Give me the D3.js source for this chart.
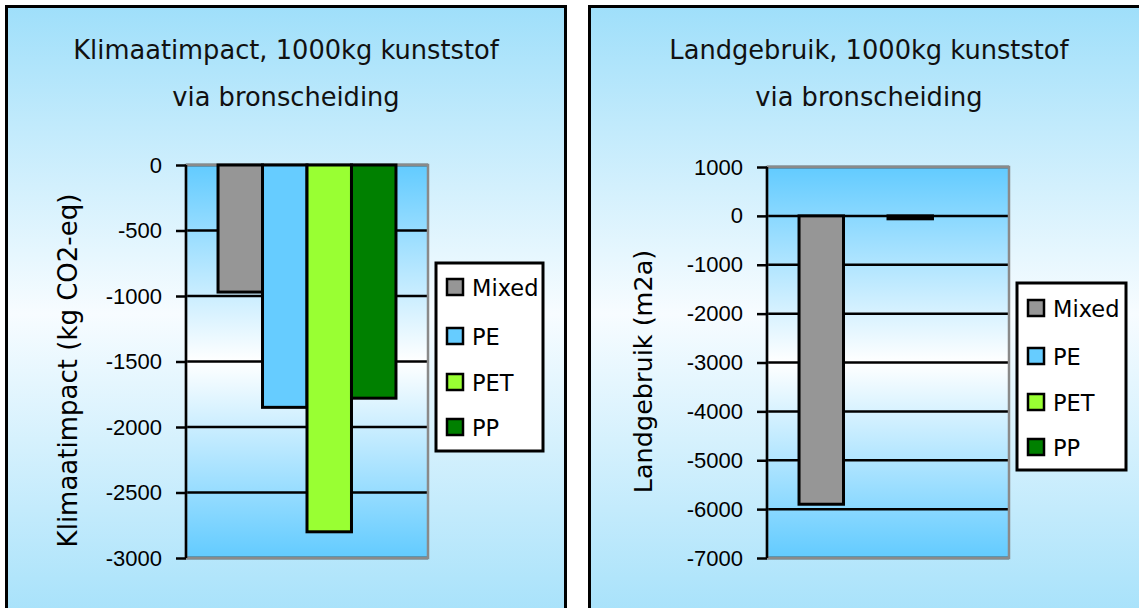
<!DOCTYPE html>
<html>
<head>
<meta charset="utf-8">
<script src="https://cdn.jsdelivr.net/npm/d3@7/dist/d3.min.js"></script>
<style>
  html, body { margin: 0; padding: 0; background: #ffffff; }
  svg { display: block; }
</style>
</head>
<body>
<svg id="chart" width="1139" height="608"></svg>
<script>
// ---- data ----
const seriesNames = ["Mixed", "PE", "PET", "PP"];
const seriesColors = ["#969696", "#66ccff", "#99ff33", "#008000"];

const klimaatTitle = ["Klimaatimpact, 1000kg kunststof", "via bronscheiding"];
const klimaatAxisLabel = "Klimaatimpact (kg CO2-eq)";
const klimaatValues = [-970, -1850, -2800, -1780];
const klimaatTicks = [0, -500, -1000, -1500, -2000, -2500, -3000];

const landTitle = ["Landgebruik, 1000kg kunststof", "via bronscheiding"];
const landAxisLabel = "Landgebruik (m2a)";
const landValues = [-5900, 0, -60, 0];
const landTicks = [1000, 0, -1000, -2000, -3000, -4000, -5000, -6000, -7000];

// ---- drawing ----
const svg = d3.select("#chart");
const defs = svg.append("defs");

const panelGrad = defs.append("linearGradient").attr("id", "panelGrad")
  .attr("x1", 0).attr("y1", 0).attr("x2", 0).attr("y2", 1);
panelGrad.append("stop").attr("offset", "0%").attr("stop-color", "#9fdffa");
panelGrad.append("stop").attr("offset", "48%").attr("stop-color", "#f7fcff");
panelGrad.append("stop").attr("offset", "100%").attr("stop-color", "#9fdffa");

const plotGrad = defs.append("linearGradient").attr("id", "plotGrad")
  .attr("x1", 0).attr("y1", 0).attr("x2", 0).attr("y2", 1);
plotGrad.append("stop").attr("offset", "0%").attr("stop-color", "#62cbff");
plotGrad.append("stop").attr("offset", "50%").attr("stop-color", "#ffffff");
plotGrad.append("stop").attr("offset", "100%").attr("stop-color", "#62cbff");

const charts = [
  { panelX: 6.5, title: klimaatTitle, axisLabel: klimaatAxisLabel, values: klimaatValues,
    ticks: klimaatTicks, domain: [-3000, 0], plotL: 186, plotR: 428, plotT: 165, plotB: 558,
    labelX: 68, labelSize: 26,
    legend: { x: 436, y: 263, w: 107, h: 188, rowY: [287, 336, 382, 427] } },
  { panelX: 589.5, title: landTitle, axisLabel: landAxisLabel, values: landValues,
    ticks: landTicks, domain: [-7000, 1000], plotL: 767, plotR: 1009, plotT: 167, plotB: 558,
    labelX: 643, labelSize: 25.5,
    legend: { x: 1017, y: 283, w: 109, h: 187, rowY: [308, 356, 402, 447] } }
];

charts.forEach(c => {
  const g = svg.append("g");
  const panelW = 559;
  // panel
  g.append("rect")
    .attr("x", c.panelX).attr("y", 6.5)
    .attr("width", panelW).attr("height", 640)
    .attr("fill", "url(#panelGrad)")
    .attr("stroke", "#000").attr("stroke-width", 3);

  const cx = c.panelX + panelW / 2;
  // title
  g.append("text").attr("x", cx).attr("y", 59)
    .attr("text-anchor", "middle")
    .style("font-family", "'DejaVu Sans', sans-serif").style("font-size", "25.7px")
    .attr("fill", "#111").text(c.title[0]);
  g.append("text").attr("x", cx).attr("y", 106)
    .attr("text-anchor", "middle")
    .style("font-family", "'DejaVu Sans', sans-serif").style("font-size", "25.7px")
    .attr("fill", "#111").text(c.title[1]);

  const y = d3.scaleLinear().domain(c.domain).range([c.plotB, c.plotT]);
  const x = d3.scaleBand().domain(seriesNames)
    .range([c.plotL, c.plotR]).paddingInner(0).paddingOuter(0.72);

  // plot background
  g.append("rect")
    .attr("x", c.plotL).attr("y", c.plotT)
    .attr("width", c.plotR - c.plotL).attr("height", c.plotB - c.plotT)
    .attr("fill", "url(#plotGrad)");

  // gridlines
  g.append("g").selectAll("line").data(c.ticks).join("line")
    .attr("x1", c.plotL).attr("x2", c.plotR)
    .attr("y1", d => y(d)).attr("y2", d => y(d))
    .attr("stroke", "#000").attr("stroke-width", 2.5);

  // plot border (gray)
  g.append("rect")
    .attr("x", c.plotL).attr("y", c.plotT)
    .attr("width", c.plotR - c.plotL).attr("height", c.plotB - c.plotT)
    .attr("fill", "none").attr("stroke", "#8a8a8a").attr("stroke-width", 2.5);

  // bars
  const data = seriesNames.map((s, i) => ({ s, v: c.values[i], col: seriesColors[i] }));
  g.append("g").selectAll("rect").data(data).join("rect")
    .attr("x", d => x(d.s))
    .attr("width", x.bandwidth())
    .attr("y", d => Math.min(y(0), y(d.v)))
    .attr("height", d => Math.abs(y(d.v) - y(0)))
    .attr("fill", d => d.col)
    .attr("stroke", "#000").attr("stroke-width", 3);

  // y axis
  const axis = d3.axisLeft(y).tickValues(c.ticks).tickSize(10).tickPadding(14)
    .tickFormat(d3.format("d"));
  const ag = g.append("g").attr("transform", `translate(${c.plotL},0)`).call(axis);
  ag.select(".domain").attr("stroke", "#000").attr("stroke-width", 2.5)
    .attr("d", `M0,${c.plotT}V${c.plotB}`);
  ag.selectAll(".tick line").attr("stroke", "#000").attr("stroke-width", 2.5);
  ag.selectAll(".tick text")
    .style("font-family", "'Liberation Sans', Arial, sans-serif")
    .style("font-size", "22px").attr("fill", "#000")
    .text(d => d < 0 ? "-" + Math.abs(d) : String(d));

  // axis label
  g.append("text")
    .attr("transform", `translate(${c.labelX},${(c.plotT + c.plotB) / 2 + 9}) rotate(-90)`)
    .attr("text-anchor", "middle").attr("dominant-baseline", "central")
    .style("font-family", "'DejaVu Sans', sans-serif").style("font-size", c.labelSize + "px")
    .attr("fill", "#000").text(c.axisLabel);

  // legend
  const L = c.legend;
  g.append("rect").attr("x", L.x).attr("y", L.y).attr("width", L.w).attr("height", L.h)
    .attr("fill", "#fff").attr("stroke", "#000").attr("stroke-width", 3);
  const items = g.append("g").selectAll("g").data(data).join("g")
    .attr("transform", (d, i) => `translate(${L.x + 11},${L.rowY[i]})`);
  items.append("rect").attr("x", 0).attr("y", -8).attr("width", 16).attr("height", 16)
    .attr("fill", d => d.col).attr("stroke", "#000").attr("stroke-width", 2.5);
  items.append("text").attr("x", 25).attr("y", 1).attr("dominant-baseline", "central")
    .style("font-family", "'DejaVu Sans', sans-serif").style("font-size", "22.5px")
    .attr("fill", "#000").text(d => d.s);
});
</script>
</body>
</html>
